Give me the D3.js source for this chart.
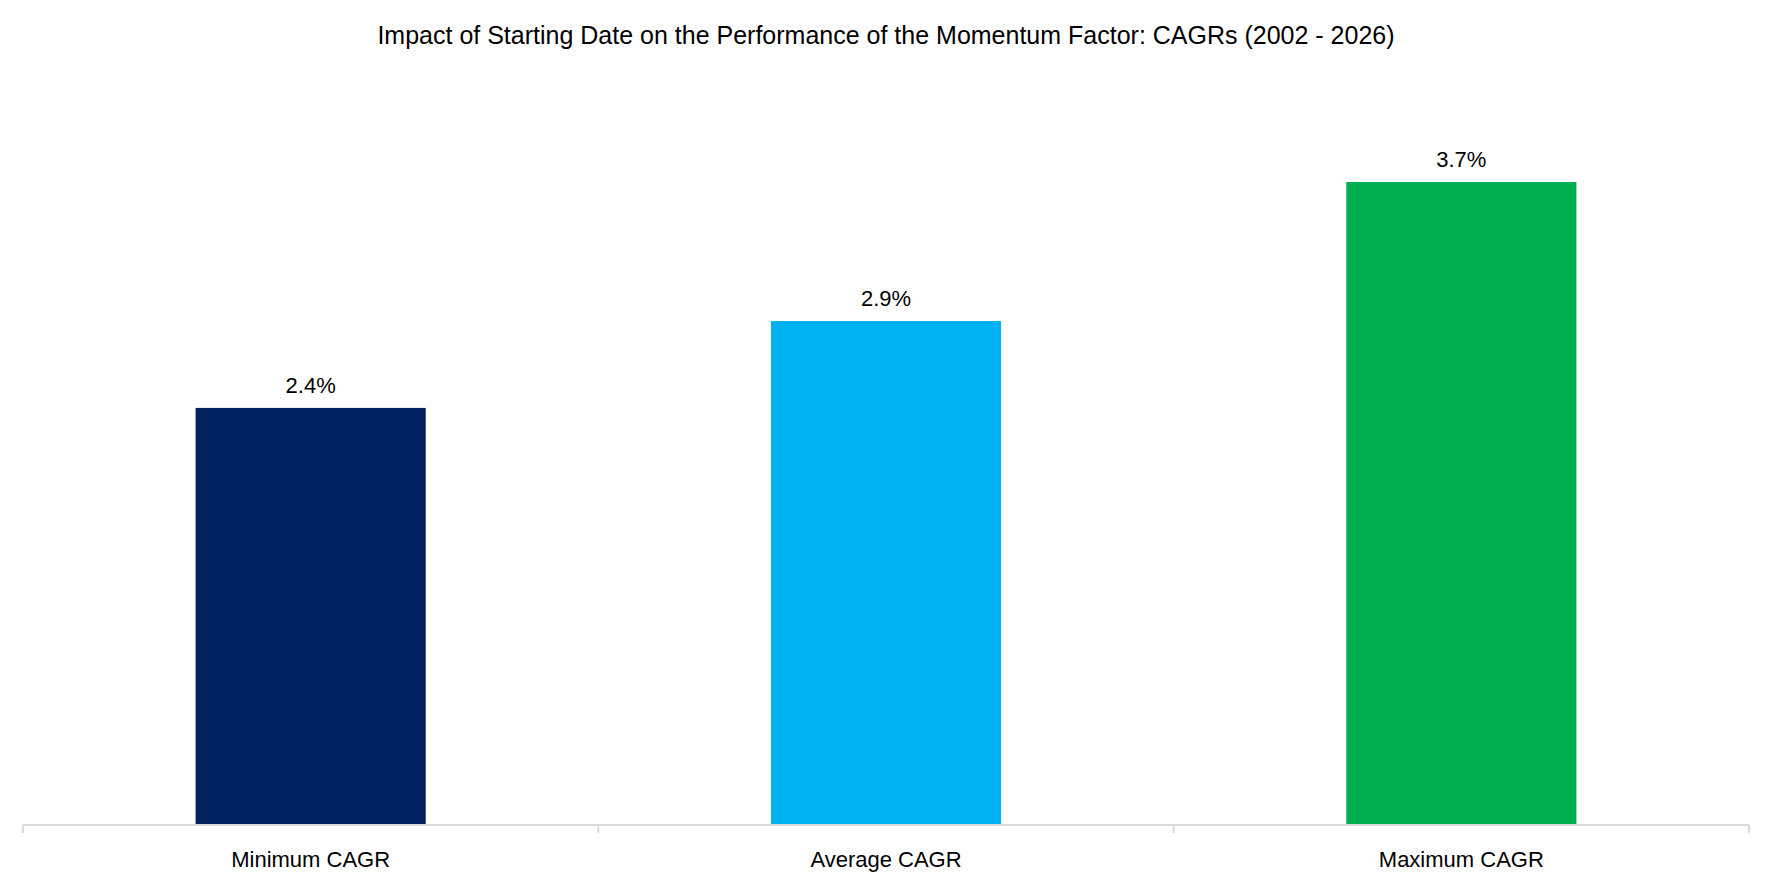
<!DOCTYPE html>
<html><head><meta charset="utf-8">
<script src="https://cdn.jsdelivr.net/npm/d3@7"></script>
<style>body{margin:0;background:#fff}text{font-family:"Liberation Sans",Arial,sans-serif;fill:#000}</style>
</head><body>
<svg id="chart" width="1772" height="886"></svg>
<script>
var categories = ["Minimum CAGR", "Average CAGR", "Maximum CAGR"];
var values = [2.4, 2.9, 3.7];
var colors = ["#002060", "#00B0F0", "#00B050"];

var svg = d3.select('#chart');
var pad = {t: 182, r: 23, b: 61, l: 23};
var w = 1772 - pad.l - pad.r, h = 886 - pad.t - pad.b;
var g = svg.append('g').attr('transform', 'translate(' + [pad.l, pad.t] + ')');

var x = d3.scaleBand().domain(categories).range([0, w]).paddingInner(0.6).paddingOuter(0.3);
var y = d3.scaleLinear().domain([0, 3.7]).range([h, 0]);

svg.append('text').attr('x', 886).attr('y', 44).attr('text-anchor', 'middle')
    .style('font-size', '25px').text('Impact of Starting Date on the Performance of the Momentum Factor: CAGRs (2002 - 2026)');

g.selectAll('.bar').data(values).enter().append('rect')
    .attr('x', function(d, i) { return x(categories[i]); })
    .attr('y', function(d) { return y(d); })
    .attr('width', x.bandwidth())
    .attr('height', function(d) { return h - y(d); })
    .attr('fill', function(d, i) { return colors[i]; });

g.selectAll('.val').data(values).enter().append('text')
    .attr('x', function(d, i) { return x(categories[i]) + x.bandwidth() / 2; })
    .attr('y', function(d) { return y(d) - 15; })
    .attr('text-anchor', 'middle').style('font-size', '22px')
    .text(function(d) { return d.toFixed(1) + '%'; });

// axis with ticks at category boundaries
var step = w / categories.length;
var axis = g.append('g').attr('transform', 'translate(0,' + h + ')');
axis.append('line').attr('x1', 0).attr('x2', w).attr('stroke', '#d9d9d9').attr('stroke-width', 2);
d3.range(categories.length + 1).forEach(function(i) {
    axis.append('line').attr('x1', i * step).attr('x2', i * step).attr('y1', 0).attr('y2', 8)
        .attr('stroke', '#d9d9d9').attr('stroke-width', 2);
});
axis.selectAll('.cat').data(categories).enter().append('text')
    .attr('x', function(d) { return x(d) + x.bandwidth() / 2; })
    .attr('y', 42).attr('text-anchor', 'middle').style('font-size', '22px')
    .text(function(d) { return d; });
</script>
</body></html>
